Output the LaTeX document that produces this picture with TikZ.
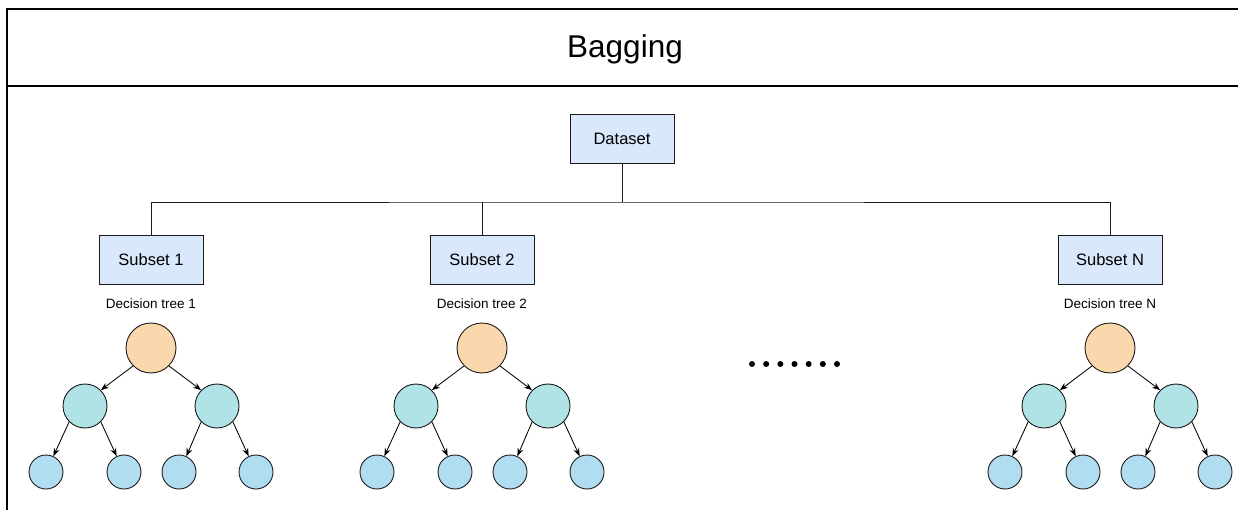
\documentclass[tikz,border=0pt]{standalone}
\usepackage{fontspec}
\setmainfont{Liberation Sans}
\usetikzlibrary{arrows.meta}
\definecolor{boxfill}{HTML}{DAE8FC}
\definecolor{rootfill}{HTML}{FAD7AC}
\definecolor{midfill}{HTML}{B0E3E6}
\definecolor{leaffill}{HTML}{B1DDF0}
\definecolor{edge}{HTML}{1A1A1A}
\tikzset{
  boxnode/.style={draw=edge,fill=boxfill,line width=0.9pt,minimum width=104pt,minimum height=49pt,inner sep=0pt,font=\fontsize{16.5}{18}\selectfont},
  rootnode/.style={circle,draw=edge,fill=rootfill,line width=0.9pt,minimum size=50pt,inner sep=0pt},
  midnode/.style={circle,draw=edge,fill=midfill,line width=0.9pt,minimum size=44pt,inner sep=0pt},
  leafnode/.style={circle,draw=edge,fill=leaffill,line width=0.9pt,minimum size=34pt,inner sep=0pt},
  treelabel/.style={font=\fontsize{13.5}{15}\selectfont,inner sep=0pt},
  link/.style={draw=edge,line width=0.9pt},
  treearrow/.style={draw=black,line width=0.85pt,-{Stealth[length=8pt,width=6pt]}},
  dotnode/.style={circle,fill=black,minimum size=6pt,inner sep=0pt},
}
\newcommand\mytree[3]{%
  \node[treelabel] (#1lab) at (#2,304) {#3};
  \node[rootnode] (#1r) at (#2,348) {};
  \node[midnode] (#1a) at ({#2-66},406) {};
  \node[midnode] (#1b) at ({#2+66},406) {};
  \node[leafnode] (#1aa) at ({#2-105},472) {};
  \node[leafnode] (#1ab) at ({#2-27},472) {};
  \node[leafnode] (#1ba) at ({#2+28},472) {};
  \node[leafnode] (#1bb) at ({#2+105},472) {};
  \draw[treearrow] (#1r.-135) -- (#1a.45);
  \draw[treearrow] (#1r.-45) -- (#1b.135);
  \draw[treearrow] (#1a.-135) -- (#1aa.65);
  \draw[treearrow] (#1a.-45) -- (#1ab.115);
  \draw[treearrow] (#1b.-135) -- (#1ba.65);
  \draw[treearrow] (#1b.-45) -- (#1bb.115);
}
\begin{document}
\begin{tikzpicture}[x=1pt,y=-1pt]
\useasboundingbox (0,0) rectangle (1238,510);
\fill[white] (0,0) rectangle (1238,510);
\begin{scope}
\clip (0,0) rectangle (1238,510);
\draw[line width=1.3pt] (1250,9) -- (7,9) -- (7,520);
\draw[line width=1.3pt] (7,86) -- (1250,86);
\end{scope}
\node[font=\fontsize{31.5}{34}\selectfont,inner sep=0pt,anchor=base] (title) at (625,57.5) {Bagging};
\node[boxnode] (ds) at (622,138.5) {Dataset};
\node[boxnode] (s1) at (151,260) {Subset 1};
\node[boxnode] (s2) at (482,260) {Subset 2};
\node[boxnode] (sN) at (1110,260) {Subset N};
\coordinate (bus) at (622,202);
\draw[link] (ds.south) -- (bus);
\draw[link] (s1.north) |- (bus) -| (sN.north);
\draw[link] (s2.north) -- (s2.north |- bus);
\mytree{ta}{151}{Decision tree 1}
\mytree{tb}{482}{Decision tree 2}
\mytree{tn}{1110}{Decision tree N}
\foreach \i in {0,...,6} {
  \node[dotnode] (dot\i) at ({752+14.17*\i},364) {};
}
\end{tikzpicture}
\end{document}
